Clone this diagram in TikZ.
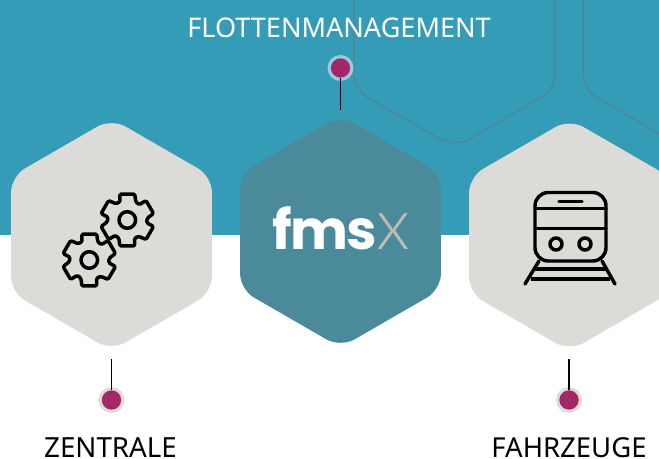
\documentclass[tikz,border=0pt]{standalone}
\usepackage{fontspec}
\setmainfont{Noto Sans}
\newfontfamily\logofont[LetterSpace=-3]{Poppins}
\newfontfamily\logolight{Lato Light}
\usetikzlibrary{shapes.geometric}
\definecolor{bluebg}{HTML}{359CB8}
\definecolor{hexgrey}{HTML}{DCDBD8}
\definecolor{hexteal}{HTML}{4B8A9B}
\definecolor{hexline}{HTML}{4A8799}
\definecolor{dotred}{HTML}{A3286A}
\definecolor{halotop}{HTML}{9ACBD9}
\definecolor{logox}{HTML}{BDBDB5}
\tikzset{
  hexshape/.style={regular polygon,regular polygon sides=6,shape border rotate=30,minimum size=174pt,inner sep=0pt,rounded corners=12pt},
  hexbox/.style={hexshape,fill=hexgrey},
  hexmain/.style={hexshape,fill=hexteal},
  hexghost/.style={hexshape,draw=hexline,line width=1.1pt},
  halo/.style={circle,inner sep=0pt,minimum size=19.5pt,fill=#1},
  dotmark/.style={circle,inner sep=0pt,minimum size=14.5pt,fill=dotred},
  connector/.style={line width=1.15pt,black},
  iconline/.style={line width=2.6pt,black,line join=round,line cap=round},
  caption/.style={font=\fontsize{#1}{22pt}\selectfont,anchor=base,inner sep=0pt}
}
\newcommand{\gearicon}[1]{%
\begin{scope}[shift={#1}]
\draw[iconline,rounded corners=1pt]
 (74:27) -- (106:27) -- (115:20) -- (128:19.5) -- (134:27) -- (166:27) -- (175:20) -- (188:19.5)
 -- (194:27) -- (226:27) -- (235:20) -- (248:19.5) -- (254:27) -- (286:27) -- (295:20) -- (308:19.5)
 -- (314:27) -- (346:27) -- (355:20) -- (8:19.5) -- (14:27) -- (46:27) -- (55:20) -- (68:19.5) -- cycle;
\draw[iconline] (0,0) circle (8.3);
\end{scope}}
\begin{document}
\begin{tikzpicture}[x=.75pt,y=-.75pt]
\useasboundingbox (0,0) rectangle (659,459);
\clip (0,0) rectangle (659,459);
\fill[bluebg] (0,0) rectangle (659,235);
\node[hexghost] (ghostA) at (454.5,31.5) {};
\node[hexghost] (ghostB) at (683.5,31.5) {};
\node[hexbox] (hexA) at (111.5,234.5) {};
\node[hexmain] (hexB) at (340.5,231.5) {};
\node[hexbox] (hexC) at (569.5,235) {};
% gears
\gearicon{(89.3,260)}
\gearicon{(127.3,220)}
% train
\draw[iconline,rounded corners=10pt] (535,192.5) rectangle (606,261);
\draw[iconline] (535,208.5) -- (606,208.5);
\draw[iconline] (535,228.5) -- (606,228.5);
\draw[iconline] (559,201.5) -- (582,201.5);
\draw[iconline] (556,244) circle (6);
\draw[iconline] (585,244) circle (6);
\draw[iconline] (539,261) -- (525,284);
\draw[iconline] (602,261) -- (615,284);
\draw[iconline,line cap=butt] (535,269) -- (606,269);
\draw[iconline,line cap=butt] (531,279) -- (610,279);
% logo
\node[font=\logofont\bfseries\fontsize{41pt}{41pt}\selectfont,text=white,anchor=base west,inner sep=0pt] (logoA) at (272,250) {fms};
\node[font=\logolight\fontsize{54pt}{54pt}\selectfont,text=logox,anchor=base west,inner sep=0pt] (logoB) at (376,250) {x};
% dots
\node[halo=halotop] (haloA) at (340.5,68) {};
\node[halo=hexgrey] (haloB) at (111.5,400) {};
\node[halo=hexgrey] (haloC) at (569,400) {};
\coordinate (endA) at (340.5,110);
\coordinate (endB) at (111.5,359);
\coordinate (endC) at (569,359);
\node[dotmark] (dotA) at (340.5,68) {};
\node[dotmark] (dotB) at (111.5,400) {};
\node[dotmark] (dotC) at (569,400) {};
\draw[connector] (dotA) -- (endA);
\draw[connector] (dotB) -- (endB);
\draw[connector] (dotC) -- (endC);
% captions
\node[caption=20.3pt,text=white] (capA) at (339,38) {FLOTTENMANAGEMENT};
\node[caption=20.8pt] (capB) at (110.5,457) {ZENTRALE};
\node[caption=20.6pt] (capC) at (569,457) {FAHRZEUGE};
\end{tikzpicture}
\end{document}
